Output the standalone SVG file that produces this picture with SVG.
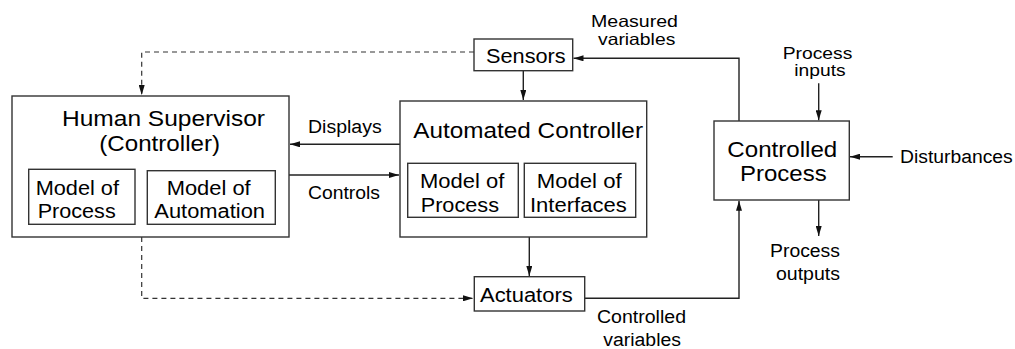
<svg xmlns="http://www.w3.org/2000/svg" width="1015" height="349" viewBox="0 0 1015 349">
<style>
text{font-family:"Liberation Sans",Arial,sans-serif;fill:#000;}
.t22{font-size:22px;}
.t20{font-size:20px;}
.t18{font-size:18px;}
.t16{font-size:16.5px;}
.box{fill:#fff;stroke:#333;stroke-width:1.4;}
.ln{fill:none;stroke:#222;stroke-width:1.4;}
.dash{fill:none;stroke:#333;stroke-width:1.2;stroke-dasharray:5,4;}
</style>
<defs>
<marker id="ah" viewBox="0 0 10 6" refX="10" refY="3" markerWidth="10" markerHeight="6" markerUnits="userSpaceOnUse" orient="auto">
<path d="M0,0 L10,3 L0,6 Z" fill="#111"/>
</marker>
</defs>
<rect width="1015" height="349" fill="#fff"/>

<g id="connectors">
<path class="dash" d="M474,52 H141.7 V95" marker-end="url(#ah)"/>
<path class="dash" d="M141.7,237 V298.3 H473" marker-end="url(#ah)"/>
<path class="ln" d="M400,144.3 H290" marker-end="url(#ah)"/>
<path class="ln" d="M289,175 H399" marker-end="url(#ah)"/>
<path class="ln" d="M523.3,70.7 V100" marker-end="url(#ah)"/>
<path class="ln" d="M529.3,237 V276" marker-end="url(#ah)"/>
<path class="ln" d="M739,121 V58.3 H573.5" marker-end="url(#ah)"/>
<path class="ln" d="M584.7,298.3 H739 V200.8" marker-end="url(#ah)"/>
<path class="ln" d="M818.7,83.3 V120.3" marker-end="url(#ah)"/>
<path class="ln" d="M892.7,156.7 H850" marker-end="url(#ah)"/>
<path class="ln" d="M818.7,200 V236" marker-end="url(#ah)"/>
</g>

<g id="labels">
<text class="t18" x="308" y="132.7" textLength="73.7" lengthAdjust="spacingAndGlyphs">Displays</text>
<text class="t18" x="308" y="199.3" textLength="72" lengthAdjust="spacingAndGlyphs">Controls</text>
<text class="t16" x="591" y="26.8" textLength="87" lengthAdjust="spacingAndGlyphs">Measured</text>
<text class="t16" x="598" y="44.6" textLength="77.3" lengthAdjust="spacingAndGlyphs">variables</text>
<text class="t18" x="597" y="323.3" textLength="89" lengthAdjust="spacingAndGlyphs">Controlled</text>
<text class="t18" x="603.3" y="345.5" textLength="77.7" lengthAdjust="spacingAndGlyphs">variables</text>
<text class="t16" x="782.7" y="58.6" textLength="69.7" lengthAdjust="spacingAndGlyphs">Process</text>
<text class="t16" x="794.3" y="76.4" textLength="51.3" lengthAdjust="spacingAndGlyphs">inputs</text>
<text class="t18" x="900" y="163.3" textLength="112.7" lengthAdjust="spacingAndGlyphs">Disturbances</text>
<text class="t18" x="770" y="256.7" textLength="70" lengthAdjust="spacingAndGlyphs">Process</text>
<text class="t18" x="776" y="280" textLength="64" lengthAdjust="spacingAndGlyphs">outputs</text>
</g>

<g id="human-supervisor">
<rect class="box" x="12" y="96" width="277" height="141"/>
<text class="t22" x="62" y="126" textLength="203" lengthAdjust="spacingAndGlyphs">Human Supervisor</text>
<text class="t22" x="99.3" y="151" textLength="120.7" lengthAdjust="spacingAndGlyphs">(Controller)</text>
<g id="hs-model-process">
<rect class="box" x="28.7" y="169.3" width="106.3" height="55"/>
<text class="t20" x="35.7" y="195" textLength="83.3" lengthAdjust="spacingAndGlyphs">Model of</text>
<text class="t20" x="37.7" y="218" textLength="78" lengthAdjust="spacingAndGlyphs">Process</text>
</g>
<g id="hs-model-automation">
<rect class="box" x="147.3" y="170.7" width="128" height="53.6"/>
<text class="t20" x="166.7" y="195" textLength="84" lengthAdjust="spacingAndGlyphs">Model of</text>
<text class="t20" x="154.3" y="218" textLength="110.7" lengthAdjust="spacingAndGlyphs">Automation</text>
</g>
</g>

<g id="automated-controller">
<rect class="box" x="400" y="101" width="246.7" height="136"/>
<text class="t22" x="413.3" y="138.3" textLength="229.7" lengthAdjust="spacingAndGlyphs">Automated Controller</text>
<g id="ac-model-process">
<rect class="box" x="407.7" y="163.3" width="110.6" height="54"/>
<text class="t20" x="420" y="187.7" textLength="84.3" lengthAdjust="spacingAndGlyphs">Model of</text>
<text class="t20" x="420.7" y="211.7" textLength="78.3" lengthAdjust="spacingAndGlyphs">Process</text>
</g>
<g id="ac-model-interfaces">
<rect class="box" x="524.3" y="163.3" width="111.4" height="54"/>
<text class="t20" x="536.7" y="187.7" textLength="85" lengthAdjust="spacingAndGlyphs">Model of</text>
<text class="t20" x="530" y="211.7" textLength="96.7" lengthAdjust="spacingAndGlyphs">Interfaces</text>
</g>
</g>

<g id="sensors">
<rect class="box" x="474" y="39" width="98.7" height="31.7"/>
<text class="t20" x="486" y="62.7" textLength="79.7" lengthAdjust="spacingAndGlyphs">Sensors</text>
</g>

<g id="actuators">
<rect class="box" x="474.3" y="276.7" width="110.4" height="34.3"/>
<text class="t20" x="480" y="301.7" textLength="92.7" lengthAdjust="spacingAndGlyphs">Actuators</text>
</g>

<g id="controlled-process">
<rect class="box" x="714" y="121" width="135.3" height="79"/>
<text class="t22" x="727.3" y="156.7" textLength="110" lengthAdjust="spacingAndGlyphs">Controlled</text>
<text class="t22" x="740" y="181" textLength="86.7" lengthAdjust="spacingAndGlyphs">Process</text>
</g>
</svg>
